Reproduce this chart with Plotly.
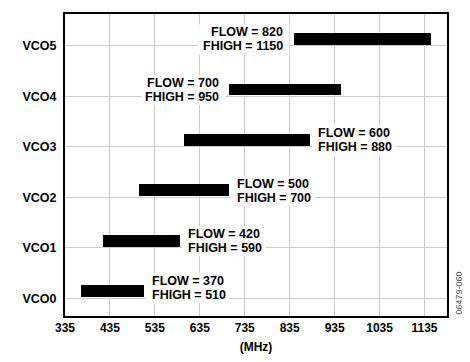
import plotly.graph_objects as go

# ---- data ----
vco_names = ["VCO0", "VCO1", "VCO2", "VCO3", "VCO4", "VCO5"]
flow_label = [370, 420, 500, 600, 700, 820]
fhigh_label = [510, 590, 700, 880, 950, 1150]
bar_start = [370, 420, 500, 600, 700, 845]
bar_end = [510, 590, 700, 880, 950, 1150]
label_side = ["right", "right", "right", "right", "left", "left"]
x_ticks = [335, 435, 535, 635, 735, 835, 935, 1035, 1135]

FONT = "Liberation Sans, Arial, sans-serif"
FSIZE = 12.5
BAR_OFF = 0.135
BAR_W = 0.235

# approximate Arial-bold advance widths (em) to size the white label boxes
CW = {"F": .611, "L": .611, "O": .778, "W": .944, "H": .722, "I": .278,
      "G": .778, " ": .278, "=": .584}


def text_px(s):
    return sum(CW.get(c, .556) for c in s) * FSIZE


ypos = [i + BAR_OFF for i in range(len(vco_names))]

fig = go.Figure()
fig.add_trace(go.Bar(
    orientation="h",
    y=ypos,
    base=bar_start,
    x=[e - s for s, e in zip(bar_start, bar_end)],
    width=BAR_W,
    marker=dict(color="black", line=dict(width=0)),
    showlegend=False,
    hoverinfo="skip",
))

shapes = []
annotations = []
HPAD = 5
for i, name in enumerate(vco_names):
    lines = [f"FLOW = {flow_label[i]}", f"FHIGH = {fhigh_label[i]}"]
    shifts = [6.5, -7.5]
    if i == 0:
        shifts = [10.0, -4.0]
    mid = sum(shifts) / 2
    wmax = max(text_px(t) for t in lines)
    if label_side[i] == "right":
        x = bar_end[i]
        xa = "left"
        gap = 7
        bx0, bx1 = gap - HPAD, gap + wmax + HPAD
        xs = gap
    else:
        x = bar_start[i]
        xa = "right"
        gap = 10 if i == 5 else 9
        bx0, bx1 = -(gap + wmax + HPAD), -(gap - HPAD)
        xs = -gap
    shapes.append(dict(
        type="rect", layer="above",
        xref="x", yref="y",
        xsizemode="pixel", ysizemode="pixel",
        xanchor=x, yanchor=ypos[i],
        x0=bx0, x1=bx1, y0=mid - 15, y1=mid + 15,
        fillcolor="white", line=dict(width=0),
    ))
    for txt, ys in zip(lines, shifts):
        annotations.append(dict(
            x=x, y=ypos[i], xref="x", yref="y",
            text=txt, showarrow=False,
            xanchor=xa, yanchor="middle", align=xa,
            xshift=xs, yshift=ys, borderpad=0,
            font=dict(family=FONT, size=FSIZE, color="black", weight="bold"),
        ))

annotations.append(dict(
    x=1.031, y=0.077, xref="paper", yref="paper",
    text="06479-060", showarrow=False, textangle=-90,
    xanchor="center", yanchor="middle",
    font=dict(family=FONT, size=9, color="#555555"),
))

fig.update_layout(
    width=462, height=354,
    margin=dict(l=57, r=23, t=4, b=46),
    paper_bgcolor="white", plot_bgcolor="white",
    annotations=annotations,
    shapes=shapes,
    bargap=0,
)
fig.update_xaxes(
    range=[335, 1185],
    tickvals=x_ticks,
    ticktext=[str(v) for v in x_ticks],
    showgrid=True, gridcolor="#cccccc", gridwidth=1,
    zeroline=False,
    showline=True, linecolor="black", linewidth=2, mirror=True,
    ticks="",
    tickfont=dict(family=FONT, size=12, color="black", weight="bold"),
    title=dict(text="(MHz)", standoff=8,
               font=dict(family=FONT, size=12, color="black", weight="bold")),
)
fig.update_yaxes(
    range=[-0.354, 5.63],
    tickvals=list(range(len(vco_names))),
    ticktext=vco_names,
    showgrid=True, gridcolor="#cccccc", gridwidth=1,
    zeroline=False,
    showline=True, linecolor="black", linewidth=2, mirror=True,
    ticks="", ticklabelstandoff=4,
    tickfont=dict(family=FONT, size=12.5, color="black", weight="bold"),
)

fig.write_html("out.html")
